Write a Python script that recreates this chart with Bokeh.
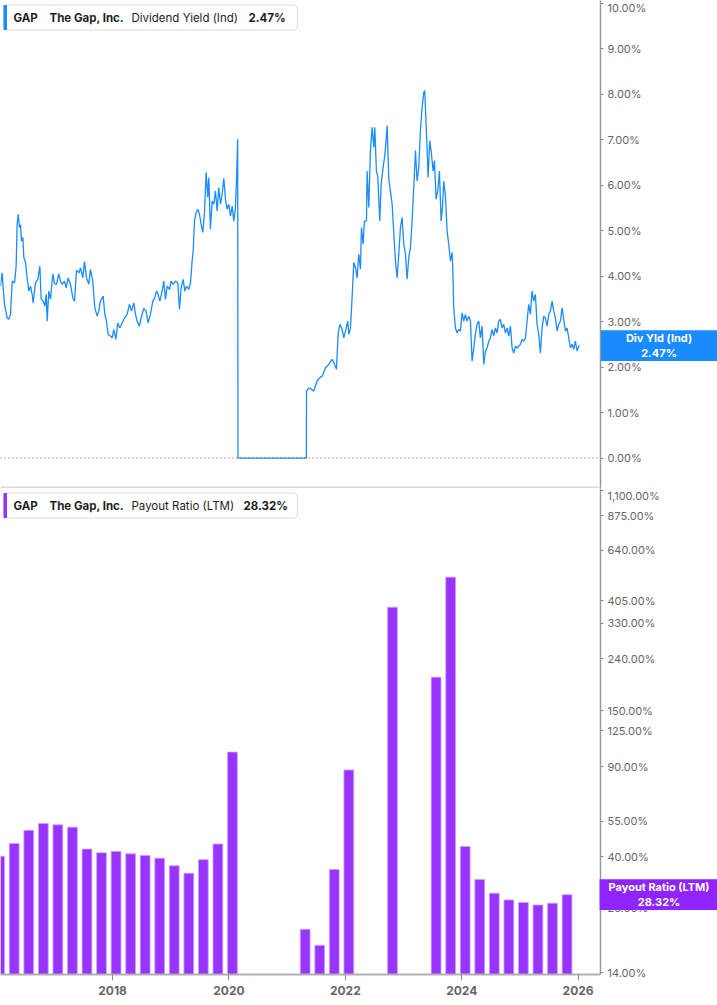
from bokeh.plotting import figure
from bokeh.layouts import column
from bokeh.models import (Range1d, FixedTicker, PrintfTickFormatter, Span, Label,
                          BoxAnnotation, ColumnDataSource)
from bokeh.embed import file_html
from bokeh.resources import INLINE

# ---------------- data ----------------
ticker = "GAP"
company = "The Gap, Inc."
yield_name = "Dividend Yield (Ind)"
yield_short = "Div Yld (Ind)"
yield_last = "2.47%"
yield_last_value = 2.47
payout_name = "Payout Ratio (LTM)"
payout_last = "28.32%"
payout_last_value = 28.32

div_dates = [
    2016.074, 2016.103, 2016.120, 2016.143, 2016.189, 2016.217, 2016.246, 2016.275, 2016.315, 2016.343,
    2016.360, 2016.378, 2016.400, 2016.418, 2016.435, 2016.458, 2016.475, 2016.504, 2016.532, 2016.561,
    2016.589, 2016.618, 2016.635, 2016.675, 2016.715, 2016.750, 2016.773, 2016.807, 2016.836, 2016.859,
    2016.876, 2016.904, 2016.933, 2016.973, 2017.002, 2017.036, 2017.076, 2017.105, 2017.134, 2017.174,
    2017.202, 2017.237, 2017.277, 2017.317, 2017.346, 2017.380, 2017.420, 2017.449, 2017.489, 2017.517,
    2017.552, 2017.592, 2017.620, 2017.660, 2017.695, 2017.735, 2017.763, 2017.792, 2017.838, 2017.867,
    2017.895, 2017.924, 2017.964, 2017.993, 2018.021, 2018.056, 2018.090, 2018.124, 2018.165, 2018.205,
    2018.250, 2018.290, 2018.325, 2018.365, 2018.394, 2018.422, 2018.462, 2018.491, 2018.537, 2018.577,
    2018.611, 2018.651, 2018.691, 2018.726, 2018.754, 2018.783, 2018.812, 2018.852, 2018.880, 2018.909,
    2018.938, 2018.978, 2019.006, 2019.041, 2019.081, 2019.121, 2019.150, 2019.178, 2019.213, 2019.241,
    2019.270, 2019.310, 2019.339, 2019.367, 2019.385, 2019.407, 2019.436, 2019.465, 2019.493, 2019.522,
    2019.551, 2019.579, 2019.608, 2019.636, 2019.654, 2019.682, 2019.711, 2019.740, 2019.768, 2019.797,
    2019.825, 2019.854, 2019.883, 2019.911, 2019.940, 2019.969, 2019.997, 2020.026, 2020.055, 2020.083,
    2020.112, 2020.129, 2020.150, 2020.155, 2021.330, 2021.333, 2021.372, 2021.412, 2021.457, 2021.515,
    2021.572, 2021.601, 2021.658, 2021.715, 2021.773, 2021.813, 2021.847, 2021.876, 2021.905, 2021.945,
    2021.973, 2022.002, 2022.042, 2022.059, 2022.088, 2022.116, 2022.145, 2022.174, 2022.202, 2022.231,
    2022.260, 2022.277, 2022.305, 2022.328, 2022.363, 2022.374, 2022.403, 2022.431, 2022.460, 2022.489,
    2022.506, 2022.534, 2022.557, 2022.592, 2022.615, 2022.649, 2022.678, 2022.701, 2022.718, 2022.747,
    2022.775, 2022.804, 2022.832, 2022.861, 2022.890, 2022.918, 2022.947, 2022.976, 2023.004, 2023.033,
    2023.061, 2023.090, 2023.119, 2023.147, 2023.176, 2023.205, 2023.233, 2023.262, 2023.290, 2023.319,
    2023.348, 2023.365, 2023.388, 2023.405, 2023.422, 2023.451, 2023.480, 2023.508, 2023.531, 2023.560,
    2023.588, 2023.617, 2023.646, 2023.669, 2023.691, 2023.720, 2023.749, 2023.777, 2023.806, 2023.835,
    2023.846, 2023.863, 2023.892, 2023.921, 2023.949, 2023.978, 2024.006, 2024.035, 2024.064, 2024.092,
    2024.121, 2024.150, 2024.178, 2024.207, 2024.235, 2024.264, 2024.293, 2024.321, 2024.350, 2024.379,
    2024.407, 2024.436, 2024.465, 2024.493, 2024.522, 2024.550, 2024.579, 2024.608, 2024.636, 2024.665,
    2024.694, 2024.722, 2024.751, 2024.780, 2024.808, 2024.837, 2024.866, 2024.894, 2024.923, 2024.952,
    2025.009, 2025.037, 2025.066, 2025.095, 2025.123, 2025.152, 2025.181, 2025.209, 2025.238, 2025.266,
    2025.295, 2025.324, 2025.352, 2025.381, 2025.410, 2025.438, 2025.467, 2025.496, 2025.524, 2025.553,
    2025.581, 2025.610, 2025.639, 2025.667, 2025.696, 2025.725, 2025.753, 2025.782, 2025.810, 2025.839,
    2025.868, 2025.896, 2025.925, 2025.953, 2025.982, 2026.011, 2026.028,
]
div_yield = [
    3.78, 4.07, 3.74, 3.38, 3.08, 3.05, 3.16, 3.89, 3.85, 4.22,
    5.14, 5.36, 5.07, 5.13, 4.77, 4.85, 4.41, 4.30, 3.96, 3.67,
    3.78, 3.60, 3.41, 3.85, 3.93, 4.22, 3.49, 3.45, 3.34, 3.60,
    3.01, 3.67, 3.49, 4.05, 3.83, 3.82, 4.05, 3.89, 3.82, 3.89,
    3.74, 3.96, 3.82, 3.52, 3.45, 4.13, 4.07, 4.18, 3.96, 4.32,
    3.96, 3.82, 4.15, 3.89, 3.30, 3.12, 3.23, 3.45, 3.56, 3.16,
    3.01, 2.72, 2.68, 2.64, 2.83, 2.61, 2.97, 2.86, 2.97, 3.08,
    3.16, 3.38, 3.23, 3.41, 3.16, 3.01, 2.90, 3.08, 3.29, 3.23,
    2.97, 3.16, 3.45, 3.52, 3.67, 3.60, 3.45, 3.67, 3.89, 3.49,
    3.78, 3.71, 3.89, 3.82, 3.89, 3.85, 3.27, 3.74, 3.93, 3.67,
    3.78, 3.71, 3.85, 4.33, 4.55, 5.21, 5.40, 5.47, 5.36, 5.14,
    4.96, 5.40, 6.28, 5.73, 6.17, 5.03, 5.65, 5.58, 5.87, 5.43,
    5.95, 5.58, 5.80, 6.15, 5.69, 5.47, 5.58, 5.32, 5.54, 5.21,
    5.51, 6.09, 7.01, 0.00, 0.00, 1.47, 1.54, 1.52, 1.47, 1.70,
    1.78, 1.80, 1.98, 2.06, 2.17, 2.07, 1.95, 2.72, 2.94, 2.83,
    2.64, 2.79, 3.01, 2.72, 2.86, 3.52, 4.30, 4.19, 3.96, 4.48,
    4.15, 5.07, 4.70, 5.21, 5.21, 6.31, 5.51, 6.76, 7.27, 6.83,
    7.27, 6.31, 6.20, 5.21, 6.02, 6.39, 6.65, 6.98, 7.31, 6.13,
    5.87, 5.58, 4.96, 4.33, 3.96, 4.48, 5.07, 5.29, 4.70, 4.48,
    3.93, 4.41, 4.63, 5.21, 5.95, 6.76, 6.09, 6.39, 7.20, 7.71,
    8.04, 8.08, 7.34, 6.83, 6.17, 6.98, 6.68, 6.31, 6.54, 5.69,
    5.87, 6.31, 5.21, 5.51, 6.09, 5.76, 4.99, 4.70, 4.33, 4.52,
    4.19, 3.30, 2.86, 2.75, 2.83, 2.79, 3.19, 3.01, 3.16, 3.01,
    3.12, 3.01, 2.13, 2.42, 2.72, 2.94, 3.01, 2.64, 2.90, 2.06,
    2.35, 2.42, 2.57, 2.64, 2.83, 2.68, 2.86, 2.75, 3.01, 3.05,
    2.86, 2.94, 2.75, 2.86, 2.68, 2.90, 2.42, 2.31, 2.46, 2.42,
    2.50, 2.61, 2.57, 2.64, 3.01, 3.38, 3.16, 3.67, 3.45, 3.60,
    2.94, 2.72, 2.31, 2.86, 3.12, 3.08, 2.90, 3.16, 3.23, 3.45,
    3.23, 3.08, 2.79, 2.94, 3.01, 3.30, 3.05, 2.79, 2.86, 2.64,
    2.42, 2.50, 2.39, 2.57, 2.35, 2.46, 2.47,
]

payout_dates = [
    2016.06, 2016.31, 2016.56, 2016.81, 2017.06, 2017.31, 2017.56, 2017.81,
    2018.06, 2018.31, 2018.56, 2018.81, 2019.06, 2019.31, 2019.56, 2019.81,
    2020.06, 2020.31, 2020.56, 2020.81, 2021.06, 2021.31, 2021.56, 2021.81,
    2022.06, 2022.31, 2022.56, 2022.81, 2023.06, 2023.31, 2023.56, 2023.81,
    2024.06, 2024.31, 2024.56, 2024.81, 2025.06, 2025.31, 2025.56, 2025.81,
]
payout_ratio = [
    40.1, 45.0, 50.7, 54.0, 53.3, 52.2, 42.8, 41.4,
    41.9, 41.0, 40.4, 39.4, 36.8, 34.4, 38.9, 44.8,
    103.0, None, None, None, None, 20.7, 17.9, 35.6,
    87.6, None, None, 382.0, None, None, 203.0, 502.0,
    43.8, 32.5, 28.7, 27.0, 26.4, 25.8, 26.2, 28.32,
]

yield_ticks = [0, 1, 2, 3, 4, 5, 6, 7, 8, 9, 10]
payout_ticks = [14, 25, 40, 55, 90, 125, 150, 240, 330, 405, 640, 875, 1100]
payout_tick_labels = ["14.00%", "25.00%", "40.00%", "55.00%", "90.00%", "125.00%", "150.00%",
                      "240.00%", "330.00%", "405.00%", "640.00%", "875.00%", "1,100.00%"]
year_ticks = [2018, 2020, 2022, 2024, 2026]
year_labels = ["2018", "2020", "2022", "2024", "2026"]

# ---------------- style ----------------
FONT = "Inter"
BLUE = "#1a8cff"
PURPLE = "#9933ff"
PURPLE_BOX = "#8f24ff"
FW = 600
FH_TOP = 488
FH_BOT = 486
RIGHT = 117
X0, X1 = 2016.074, 2026.385
PX_PER_YEAR = FW / (X1 - X0)
BOX_CX = X1 + 58.5 / PX_PER_YEAR


def style_y(ax):
    ax.axis_line_color = "#9a9a9a"
    ax.axis_line_width = 1.5
    ax.major_tick_line_color = "#888888"
    ax.major_tick_out = 3
    ax.major_tick_in = 0
    ax.minor_tick_line_color = None
    ax.major_label_text_font = FONT
    ax.major_label_text_font_size = "11px"
    ax.major_label_text_color = "#666666"
    ax.major_label_standoff = 4


def legend_box(p, fh, accent, parts):
    top = fh - 4.5
    bot = fh - 29.5
    p.add_layout(BoxAnnotation(left=3, right=297, top=top, bottom=bot,
                               left_units="screen", right_units="screen",
                               top_units="screen", bottom_units="screen",
                               fill_color="white", fill_alpha=1.0,
                               line_color="#dddddd", line_alpha=1.0, line_width=1,
                               border_radius=4))
    p.add_layout(BoxAnnotation(left=3, right=6.5, top=top, bottom=bot,
                               left_units="screen", right_units="screen",
                               top_units="screen", bottom_units="screen",
                               fill_color=accent, fill_alpha=1.0, line_color=None))
    for x, txt, bold in parts:
        p.add_layout(Label(x=x, y=(top + bot) / 2, x_units="screen", y_units="screen",
                           text=txt, text_font=FONT, text_font_size="11.5px",
                           text_font_style="bold" if bold else "normal",
                           text_color="#1e1e1e", text_baseline="middle", text_align="left"))


def value_box(p, text, yval, color, pad_x):
    p.add_layout(Label(x=BOX_CX, y=yval, x_units="data", y_units="data",
                       text=text, text_align="center", text_baseline="middle",
                       text_color="white", text_font=FONT, text_font_size="11px",
                       text_font_style="bold", text_line_height=1.05,
                       background_fill_color=color, background_fill_alpha=1.0,
                       padding=dict(left=pad_x, right=pad_x, top=1, bottom=1)), "right")


x_range = Range1d(X0, X1)

# ---------------- top: dividend yield ----------------
top = figure(frame_width=FW, frame_height=FH_TOP, x_range=x_range,
             y_range=Range1d(-0.67, 10.06), y_axis_location="right", x_axis_location=None,
             toolbar_location=None, output_backend="svg",
             min_border_left=0, min_border_right=RIGHT, min_border_top=0, min_border_bottom=0,
             outline_line_color=None, background_fill_color="white", border_fill_color="white")
top.grid.visible = False
top.yaxis.ticker = FixedTicker(ticks=yield_ticks)
top.yaxis.formatter = PrintfTickFormatter(format="%.2f%%")
style_y(top.yaxis[0])

top.add_layout(Span(location=0, dimension="width", line_color="#555555",
                    line_width=1, line_dash="1 3"))
top.line(x=div_dates, y=div_yield, line_color=BLUE, line_width=1.3)
top.add_layout(Span(location=-0.67, dimension="width", line_color="#dcdcdc", line_width=4))

legend_box(top, FH_TOP, BLUE, [(13, ticker, True), (49, company, True),
                               (131, yield_name, False), (248, yield_last, True)])
value_box(top, yield_short + "\n" + yield_last, yield_last_value, BLUE, 25)

# ---------------- bottom: payout ratio ----------------
Y0 = 13.75
bot = figure(frame_width=FW, frame_height=FH_BOT, x_range=x_range,
             y_range=Range1d(Y0, 1120), y_axis_type="log", y_axis_location="right",
             toolbar_location=None, output_backend="svg",
             min_border_left=0, min_border_right=RIGHT, min_border_top=0, min_border_bottom=30,
             outline_line_color=None, background_fill_color="white", border_fill_color="white")
bot.grid.visible = False
bot.yaxis.ticker = FixedTicker(ticks=payout_ticks)
bot.yaxis.major_label_overrides = {int(t): lab for t, lab in zip(payout_ticks, payout_tick_labels)}
style_y(bot.yaxis[0])

bx = bot.xaxis[0]
bx.ticker = FixedTicker(ticks=year_ticks)
bx.major_label_overrides = {int(t): lab for t, lab in zip(year_ticks, year_labels)}
bx.axis_line_color = "#b0b0b0"
bx.axis_line_width = 2
bx.major_tick_line_color = "#888888"
bx.major_tick_out = 6
bx.major_tick_in = 0
bx.minor_tick_line_color = None
bx.major_label_text_font = FONT
bx.major_label_text_font_size = "12px"
bx.major_label_text_font_style = "bold"
bx.major_label_text_color = "#666666"
bx.major_label_standoff = 5

keep = [i for i, v in enumerate(payout_ratio) if v is not None]
src = ColumnDataSource(dict(x=[payout_dates[i] for i in keep],
                            top=[payout_ratio[i] for i in keep]))
bot.vbar(x="x", top="top", bottom=Y0, width=0.168, source=src,
         fill_color=PURPLE, line_color="#c9a0ff", line_width=0.8)

legend_box(bot, FH_BOT, PURPLE, [(13, ticker, True), (49, company, True),
                                 (131, payout_name, False), (243, payout_last, True)])
value_box(bot, payout_name + "\n" + payout_last, payout_last_value, PURPLE_BOX, 9)

layout = column(top, bot, spacing=0)
open("out.html", "w").write(file_html(layout, INLINE))
